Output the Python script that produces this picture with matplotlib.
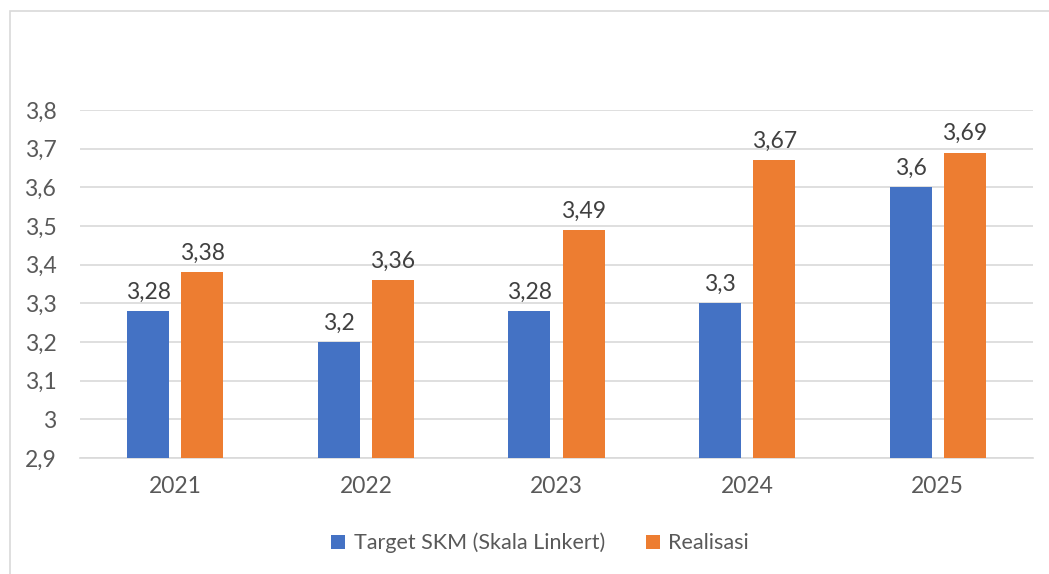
import numpy as np
import matplotlib.pyplot as plt
from matplotlib.patches import Rectangle

years = ['2021', '2022', '2023', '2024', '2025']
target = [3.28, 3.2, 3.28, 3.3, 3.6]
realisasi = [3.38, 3.36, 3.49, 3.67, 3.69]
yticks = [2.9, 3.0, 3.1, 3.2, 3.3, 3.4, 3.5, 3.6, 3.7, 3.8]

plt.rcParams['font.family'] = ['Lato', 'DejaVu Sans']
txt = '#595959'
blue = '#4472c4'
orange = '#ed7d31'
fs = 16.5

fig = plt.figure(figsize=(10.49, 5.74), dpi=100)
ax = fig.add_axes([80 / 1049, 1 - 458 / 574, (1033 - 80) / 1049, (458 - 110) / 574])

# chart frame (only left and top edges visible in the crop)
fig.patches.append(Rectangle((10 / 1049, -0.1), 1.2, 1 - 11 / 574 + 0.1,
                             transform=fig.transFigure, fill=False,
                             edgecolor='#d9d9d9', linewidth=1.2))

x = np.arange(len(years))
w = 0.22
off = 0.142
b1 = ax.bar(x - off, target, w, color=blue, label='Target SKM (Skala Linkert)', zorder=3)
b2 = ax.bar(x + off, realisasi, w, color=orange, label='Realisasi', zorder=3)

def fmt(v):
    return ('%g' % v).replace('.', ',')

for bars, vals in ((b1, target), (b2, realisasi)):
    for r, v in zip(bars, vals):
        ax.annotate(fmt(v), (r.get_x() + r.get_width() / 2, v), xytext=(0, 6),
                    textcoords='offset points', ha='center', va='bottom',
                    fontsize=fs, color='#404040')

ax.set_xlim(-0.5, len(years) - 0.5)
ax.set_ylim(2.9, 3.8)
ax.set_yticks(yticks)
ax.set_yticklabels([fmt(round(t, 1)) for t in yticks])
ax.set_xticks(x)
ax.set_xticklabels(years)
ax.tick_params(axis='both', length=0, labelsize=fs, labelcolor=txt)
ax.tick_params(axis='y', pad=17)
ax.tick_params(axis='x', pad=13)
ax.grid(axis='y', color='#d9d9d9', linewidth=1.2, zorder=0)
for s in ['top', 'right', 'left']:
    ax.spines[s].set_visible(False)
ax.spines['bottom'].set_color('#d9d9d9')
ax.spines['bottom'].set_linewidth(1.2)

fig.legend(loc='center', bbox_to_anchor=(540 / 1049, 1 - 543 / 574), ncol=2,
           frameon=False, fontsize=15.5, labelcolor=txt, handlelength=0.65,
           handleheight=0.65, handletextpad=0.4, columnspacing=1.9)

fig.savefig('out.png', dpi=100)
